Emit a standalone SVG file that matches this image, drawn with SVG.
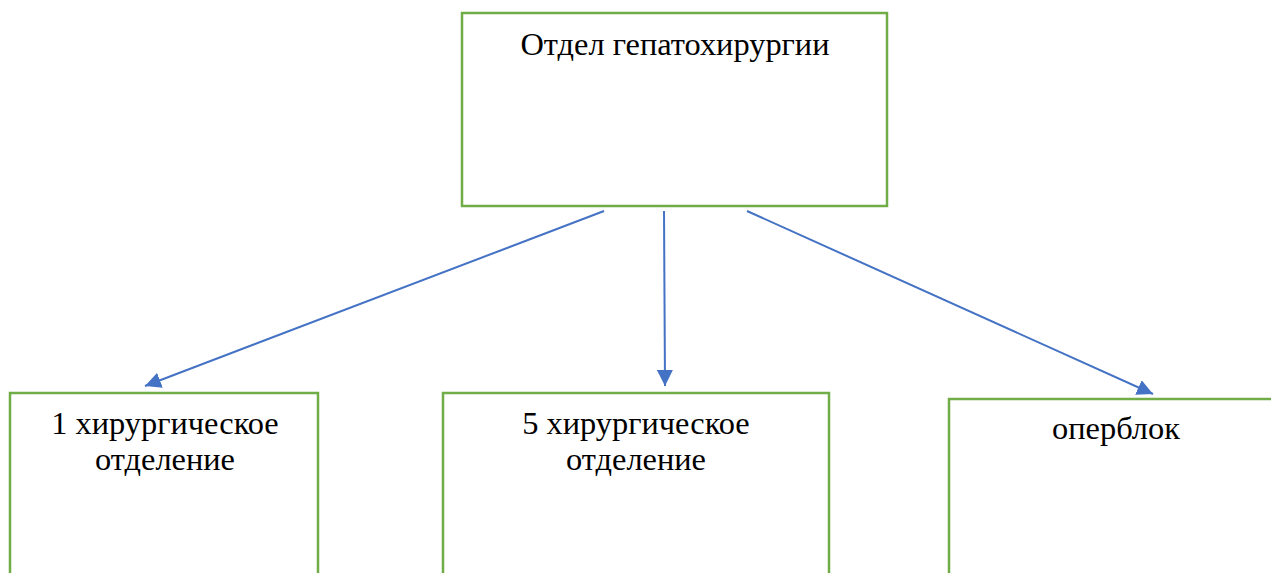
<svg xmlns="http://www.w3.org/2000/svg" width="1271" height="573" viewBox="0 0 1271 573">
<style>
.box{fill:#fff;stroke:#70AD47;stroke-width:2.5}
.lbl{font-family:"Liberation Serif","Times New Roman",serif;font-size:32.4px;fill:#000;text-anchor:middle}
.edge{stroke:#4472C4;stroke-width:2;fill:none;marker-end:url(#ah)}
</style>
<defs>
<marker id="ah" viewBox="0 0 10 10" refX="10" refY="5" markerWidth="8" markerHeight="8" orient="auto" markerUnits="strokeWidth">
<path d="M0,0 L10,5 L0,10 z" fill="#4472C4"/>
</marker>
</defs>
<rect width="1271" height="573" fill="#fff"/>
<g id="top">
<rect class="box" x="462" y="13" width="425" height="193"/>
<text class="lbl" x="675" y="55">Отдел гепатохирургии</text>
</g>
<g id="n1">
<rect class="box" x="10" y="393" width="308" height="200"/>
<text class="lbl" x="165" y="434">1 хирургическое</text>
<text class="lbl" x="165" y="470">отделение</text>
</g>
<g id="n5">
<rect class="box" x="443" y="393" width="386" height="200"/>
<text class="lbl" x="636" y="434">5 хирургическое</text>
<text class="lbl" x="636" y="470">отделение</text>
</g>
<g id="op">
<rect class="box" x="949" y="399" width="340" height="200"/>
<text class="lbl" x="1116" y="439">оперблок</text>
</g>
<g id="connectors">
<line class="edge" x1="604" y1="211" x2="145" y2="386"/>
<line class="edge" x1="664" y1="211" x2="665" y2="386"/>
<line class="edge" x1="747" y1="211" x2="1153" y2="394"/>
</g>
</svg>
